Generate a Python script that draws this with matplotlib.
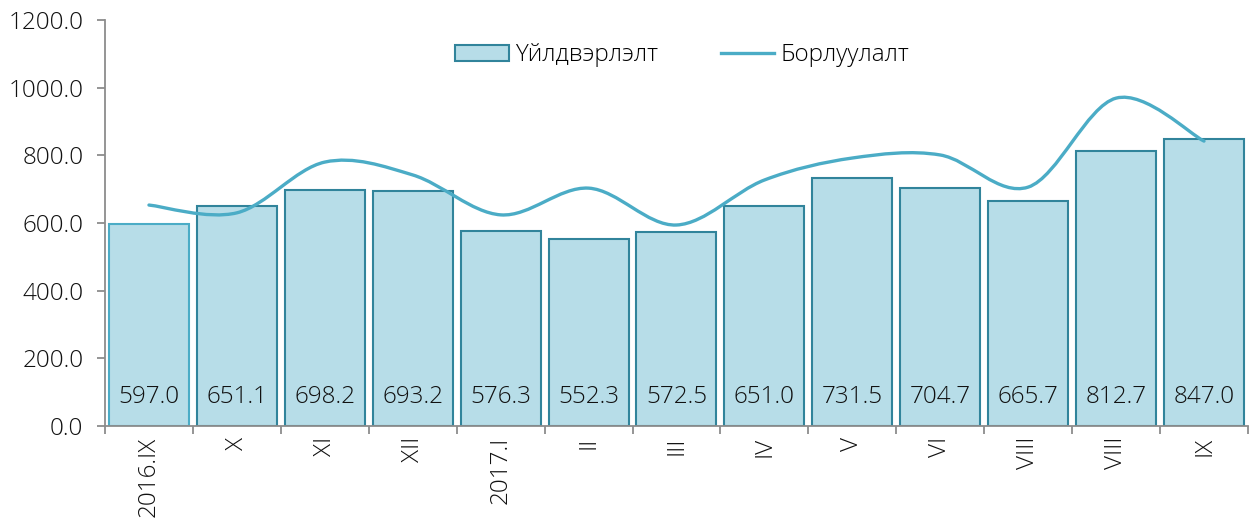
import matplotlib
matplotlib.use("Agg")
import matplotlib.pyplot as plt
from matplotlib.path import Path
from matplotlib.patches import PathPatch
from matplotlib.lines import Line2D
from matplotlib.patches import Patch
import numpy as np

plt.rcParams['font.family'] = ['Open Sans', 'DejaVu Sans']
plt.rcParams['font.weight'] = 300

categories = ["2016.IX", "X", "XI", "XII", "2017.I", "II", "III", "IV", "V", "VI", "VIII", "VIII", "IX"]
production = [597.0, 651.1, 698.2, 693.2, 576.3, 552.3, 572.5, 651.0, 731.5, 704.7, 665.7, 812.7, 847.0]
sales = [653, 630, 780, 742, 624, 703, 594, 727, 792, 801, 706, 969, 842]

BAR_FILL = "#b7dde8"
BAR_EDGE = "#31849b"
LINE_C = "#4bacc6"
TXT = "#111111"
AX_C = "#8c8c8c"
FS = 17.5

fig = plt.figure(figsize=(12.56, 5.23), dpi=100)
ax = fig.add_axes([0.0836, 0.1855, 0.9100, 0.7763])

x = np.arange(len(categories))
edges = [LINE_C] + [BAR_EDGE] * (len(categories) - 1)
ax.bar(x, production, width=0.91, color=BAR_FILL, edgecolor=edges, linewidth=1.5, zorder=2)

for xi, v in zip(x, production):
    ax.text(xi, 85, f"{v:.1f}", ha="center", va="center", fontsize=FS, color=TXT, zorder=4)

# smoothed line (Catmull-Rom as cubic Bezier segments, like spreadsheet smoothing)
px = x.astype(float)
py = np.array(sales, dtype=float)
verts = [(px[0], py[0])]
codes = [Path.MOVETO]
n = len(px)
t = 1.0 / 6.0
for i in range(n - 1):
    p0 = (px[i - 1], py[i - 1]) if i > 0 else (px[i], py[i])
    p1 = (px[i], py[i])
    p2 = (px[i + 1], py[i + 1])
    p3 = (px[i + 2], py[i + 2]) if i + 2 < n else p2
    c1 = (p1[0] + (p2[0] - p0[0]) * t, p1[1] + (p2[1] - p0[1]) * t)
    c2 = (p2[0] - (p3[0] - p1[0]) * t, p2[1] - (p3[1] - p1[1]) * t)
    verts += [c1, c2, p2]
    codes += [Path.CURVE4] * 3
path = Path(verts, codes)
ax.add_patch(PathPatch(path, facecolor="none", edgecolor=LINE_C, linewidth=2.4,
                       capstyle="round", zorder=3))

ax.set_xlim(-0.5, len(categories) - 0.5)
ax.set_ylim(0, 1200)
ax.set_yticks(np.arange(0, 1201, 200))
ax.set_yticklabels([f"{v:.1f}" for v in np.arange(0, 1201, 200)], fontsize=FS, color=TXT)

ax.set_xticks(x)
ax.set_xticklabels(categories, rotation=90, fontsize=FS, color=TXT, va="top", ha="center")
ax.set_xticks(np.arange(-0.5, len(categories), 1.0), minor=True)
ax.tick_params(axis="x", which="major", length=0, pad=8)
ax.tick_params(axis="x", which="minor", length=6, color=AX_C, width=1.3)
ax.tick_params(axis="y", length=6, color=AX_C, width=1.3, pad=9.5)

for s in ["top", "right"]:
    ax.spines[s].set_visible(False)
for s in ["left", "bottom"]:
    ax.spines[s].set_color(AX_C)
    ax.spines[s].set_linewidth(1.3)

handles = [Patch(facecolor=BAR_FILL, edgecolor=BAR_EDGE, linewidth=1.5),
           Line2D([0], [0], color=LINE_C, linewidth=2.4)]
ax.legend(handles, ["Үйлдвэрлэлт", "Борлуулалт"], loc="center",
          bbox_to_anchor=(0.505, 0.913), ncol=2, frameon=False, fontsize=FS,
          handlelength=2.2, handleheight=0.65, columnspacing=2.6, handletextpad=0.25)

fig.savefig("out.png", dpi=100)
